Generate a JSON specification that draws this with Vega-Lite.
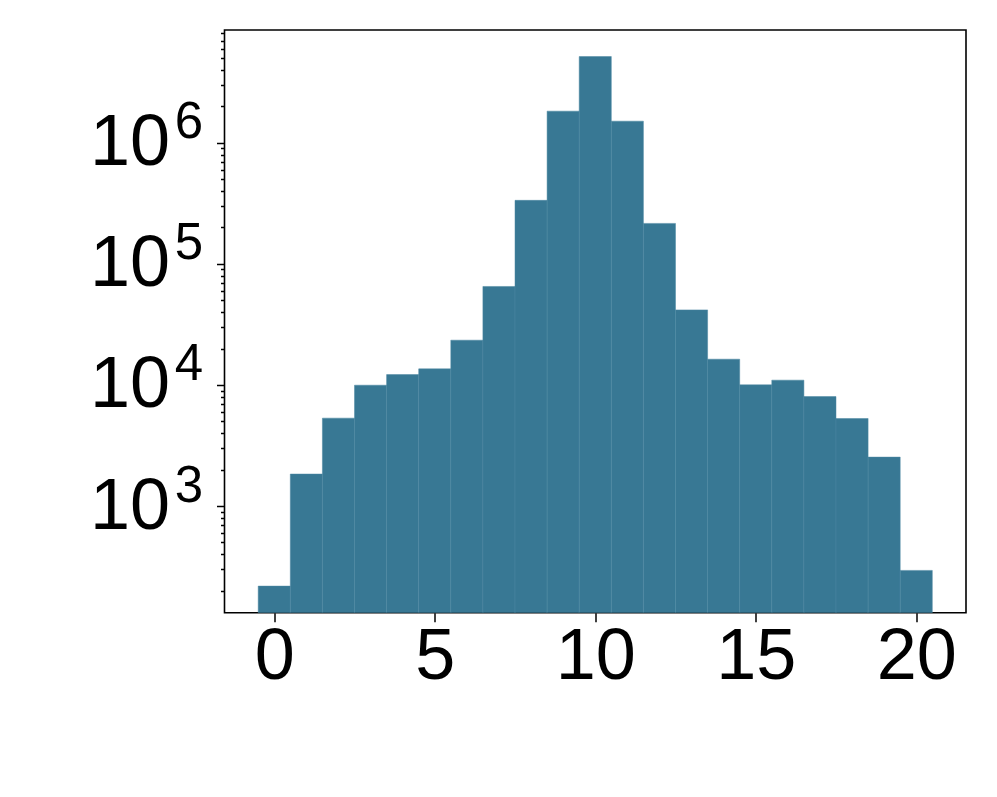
{
  "$schema": "https://vega.github.io/schema/vega-lite/v6.json",
  "autosize": "none",
  "width": 741.5,
  "height": 582.7,
  "padding": {"left": 224.5, "top": 30, "right": 31, "bottom": 184.3},
  "background": "white",
  "config": {
    "view": {"stroke": "black", "strokeWidth": 1.6, "fill": null},
    "axis": {
      "domain": false,
      "grid": false,
      "labelFont": "Liberation Sans",
      "labelFontSize": 72,
      "labelColor": "black",
      "tickColor": "black",
      "tickWidth": 1.5,
      "title": null
    }
  },
  "data": {
    "values": [
      {"start": -0.5, "end": 0.5, "count": 218},
      {"start": 0.5, "end": 1.5, "count": 1837},
      {"start": 1.5, "end": 2.5, "count": 5322},
      {"start": 2.5, "end": 3.5, "count": 9955},
      {"start": 3.5, "end": 4.5, "count": 12180},
      {"start": 4.5, "end": 5.5, "count": 13580},
      {"start": 5.5, "end": 6.5, "count": 23440},
      {"start": 6.5, "end": 7.5, "count": 65100},
      {"start": 7.5, "end": 8.5, "count": 335000},
      {"start": 8.5, "end": 9.5, "count": 1827000},
      {"start": 9.5, "end": 10.5, "count": 5160000},
      {"start": 10.5, "end": 11.5, "count": 1510000},
      {"start": 11.5, "end": 12.5, "count": 216000},
      {"start": 12.5, "end": 13.5, "count": 41700},
      {"start": 13.5, "end": 14.5, "count": 16330},
      {"start": 14.5, "end": 15.5, "count": 10020},
      {"start": 15.5, "end": 16.5, "count": 10960},
      {"start": 16.5, "end": 17.5, "count": 8020},
      {"start": 17.5, "end": 18.5, "count": 5285},
      {"start": 18.5, "end": 19.5, "count": 2535},
      {"start": 19.5, "end": 20.5, "count": 294}
    ]
  },
  "layer": [
    {
      "mark": {"type": "bar", "fill": "#387894", "stroke": "#4a86a1", "strokeWidth": 0.5, "clip": true},
      "encoding": {
        "x": {
          "field": "start",
          "type": "quantitative",
          "scale": {"domain": [-1.55, 21.55], "nice": false, "zero": false},
          "axis": {"values": [0, 5, 10, 15, 20], "tickSize": 9, "labelPadding": 0, "labelFlush": false}
        },
        "x2": {"field": "end"},
        "y": {
          "field": "count",
          "type": "quantitative",
          "scale": {"type": "log", "domain": [131.5, 8550000], "nice": false},
          "axis": {
            "orient": "left",
            "values": [200, 300, 400, 500, 600, 700, 800, 900, 1000, 2000, 3000, 4000, 5000, 6000, 7000, 8000, 9000, 10000, 20000, 30000, 40000, 50000, 60000, 70000, 80000, 90000, 100000, 200000, 300000, 400000, 500000, 600000, 700000, 800000, 900000, 1000000, 2000000, 3000000, 4000000, 5000000, 6000000, 7000000, 8000000],
            "labelExpr": "datum.value == 1000 ? '3' : datum.value == 10000 ? '4' : datum.value == 100000 ? '5' : datum.value == 1000000 ? '6' : ''",
            "labelFontSize": 51,
            "labelOffset": -20,
            "tickSize": {"condition": {"test": "datum.value == 1000 || datum.value == 10000 || datum.value == 100000 || datum.value == 1000000", "value": 8}, "value": 4},
            "labelPadding": 14,
            "labelFlush": false,
            "labelOverlap": false
          }
        },
        "y2": {"datum": 100}
      }
    },
    {
      "mark": {"type": "bar", "opacity": 0, "clip": true},
      "encoding": {
        "x": {"field": "start", "type": "quantitative"},
        "x2": {"field": "end"},
        "y": {
          "field": "count",
          "type": "quantitative",
          "axis": {
            "orient": "left",
            "values": [1000, 10000, 100000, 1000000],
            "labelExpr": "'10'",
            "ticks": false,
            "tickSize": 0,
            "labelPadding": 55,
            "labelFlush": false,
            "labelOverlap": false
          }
        },
        "y2": {"datum": 100}
      }
    }
  ],
  "resolve": {"axis": {"y": "independent"}}
}
